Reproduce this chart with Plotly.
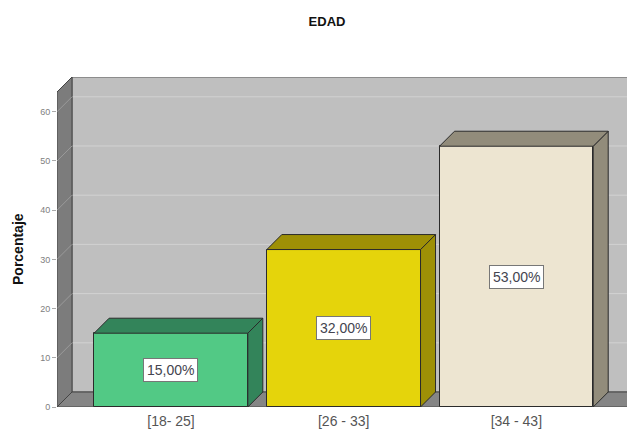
import plotly.graph_objects as go

# ---- data ----
categories = ["[18- 25]", "[26 - 33]", "[34 - 43]"]
percent = [15.0, 32.0, 53.0]
value_labels = ["15,00%", "32,00%", "53,00%"]
y_ticks = [0, 10, 20, 30, 40, 50, 60]

front_colors = ["#52c985", "#e5d40b", "#ede5d1"]
shade_colors = ["#33845a", "#9e9006", "#928c7b"]

# ---- geometry (page body has an 8px margin) ----
OFF = 8
W, H = 635 - OFF, 431 - OFF
ML, MR, MT, MB = 57 - OFF, 0, 77 - OFF, 24
X0, X1 = -0.66, 2.687
Y0, Y1 = 0.0, 67.07
BAR_W = 0.89
pxx = (W - ML - MR) / (X1 - X0)
pyy = (H - MT - MB) / (Y1 - Y0)
DX = 15 / pxx
DY = 15 / pyy

xs = list(range(len(categories)))

fig = go.Figure()

# front faces
fig.add_trace(go.Bar(
    x=xs, y=percent, width=BAR_W,
    marker=dict(color=front_colors, line=dict(color="#2b2b2b", width=1)),
    hoverinfo="skip", showlegend=False,
))

# top and side faces
for i, v in enumerate(percent):
    l, r = xs[i] - BAR_W / 2, xs[i] + BAR_W / 2
    fig.add_trace(go.Scatter(
        x=[r, r + DX, r + DX, r, r], y=[0, DY, v + DY, v, 0],
        fill="toself", fillcolor=shade_colors[i], mode="lines",
        line=dict(color="#2b2b2b", width=1), hoverinfo="skip", showlegend=False,
    ))
    fig.add_trace(go.Scatter(
        x=[l, r, r + DX, l + DX, l], y=[v, v, v + DY, v + DY, v],
        fill="toself", fillcolor=shade_colors[i], mode="lines",
        line=dict(color="#2b2b2b", width=1), hoverinfo="skip", showlegend=False,
    ))

shapes = []
# back wall
shapes.append(dict(type="rect", xref="x", yref="y", x0=X0 + DX, x1=X1 + 1, y0=DY, y1=Y1,
                   fillcolor="#bfbfbf", line=dict(color="#5a5a5a", width=1), layer="below"))
for t in y_ticks[1:]:
    shapes.append(dict(type="line", xref="x", yref="y", x0=X0 + DX, x1=X1, y0=t + DY, y1=t + DY,
                       line=dict(color="#d2d2d2", width=1), layer="below"))
# left wall
shapes.append(dict(type="path", xref="x", yref="y",
                   path=f"M {X0},{Y0} L {X0},{Y1 - DY} L {X0 + DX},{Y1} L {X0 + DX},{DY} Z",
                   fillcolor="#7c7c7c", line=dict(color="#444444", width=1), layer="below"))
for t in y_ticks[1:]:
    shapes.append(dict(type="line", xref="x", yref="y", x0=X0, x1=X0 + DX, y0=t, y1=t + DY,
                       line=dict(color="#9a9a9a", width=1), layer="below"))
# floor
shapes.append(dict(type="path", xref="x", yref="y",
                   path=f"M {X0},{Y0} L {X1},{Y0} L {X1 + DX},{DY} L {X0 + DX},{DY} Z",
                   fillcolor="#858585", line=dict(color="#444444", width=1), layer="below"))

annotations = []
for i, v in enumerate(percent):
    annotations.append(dict(
        x=xs[i], y=v / 2, xref="x", yref="y", text=value_labels[i], showarrow=False,
        bgcolor="#ffffff", bordercolor="#777777", borderwidth=1, borderpad=3,
        font=dict(family="Liberation Sans, Arial", size=14, color="#44444f"),
    ))
annotations.append(dict(
    x=(18 - OFF - ML) / (W - ML - MR), xanchor="center",
    y=1 - (249 - OFF - MT) / (H - MT - MB), yanchor="middle",
    xref="paper", yref="paper", text="<b>Porcentaje</b>",
    textangle=-90, showarrow=False, font=dict(family="Liberation Sans, Arial", size=14, color="#111111"),
))

fig.update_layout(
    width=W, height=H,
    margin=dict(l=ML, r=MR, t=MT, b=MB, pad=0),
    paper_bgcolor="#ffffff", plot_bgcolor="#ffffff",
    template="none",
    title=dict(text="<b>EDAD</b>", x=(327 - OFF) / W, xanchor="center", y=1 - (21 - OFF) / H,
               yanchor="middle",
               font=dict(family="Liberation Sans, Arial", size=13, color="#111111")),
    shapes=shapes, annotations=annotations, showlegend=False, bargap=0,
    xaxis=dict(range=[X0, X1], tickvals=xs, ticktext=categories, showgrid=False, zeroline=False,
               showline=False, ticks="", automargin=False, ticklabelstandoff=4,
               tickfont=dict(family="Liberation Sans, Arial", size=14, color="#555555")),
    yaxis=dict(range=[Y0, Y1], tickvals=y_ticks, showgrid=False, zeroline=False, showline=False,
               ticks="outside", ticklen=4, tickcolor="#aaaaaa", automargin=False,
               tickfont=dict(family="Liberation Sans, Arial", size=9, color="#808080")),
)

fig.write_html("out.html")
